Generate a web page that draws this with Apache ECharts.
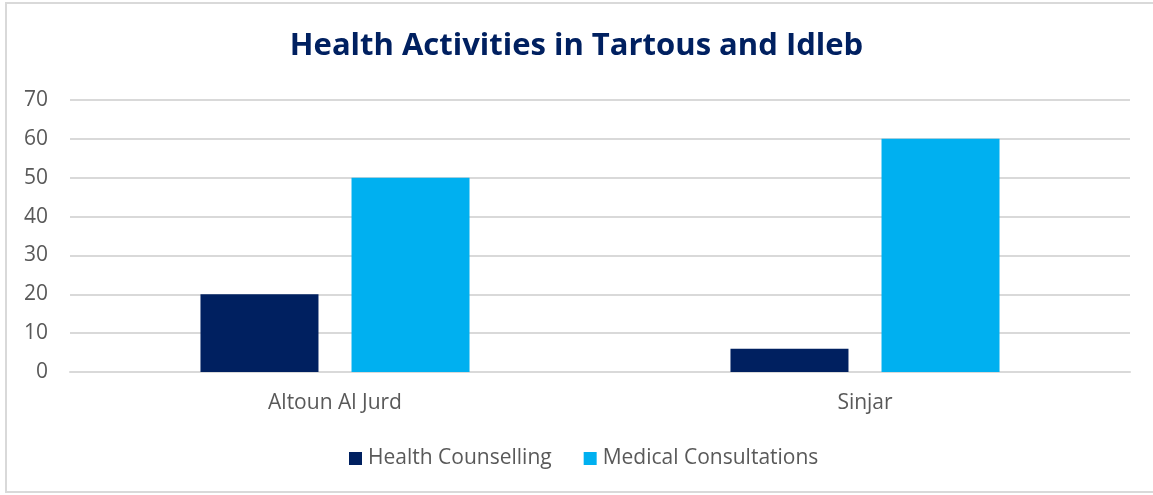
<!DOCTYPE html>
<html>
<head>
<meta charset="utf-8">
<script src="https://cdn.jsdelivr.net/npm/echarts@6/dist/echarts.min.js"></script>
<style>
html,body{margin:0;padding:0;background:#fff;}
#frame{position:absolute;left:5px;top:2px;width:1160px;height:491px;border:2px solid #d9d9d9;border-right:none;box-sizing:border-box;}
#chart{position:absolute;left:0;top:0;width:1153px;height:495px;}
</style>
</head>
<body>
<div id="frame"></div>
<div id="chart"></div>
<script>
const titleText = 'Health Activities in Tartous and Idleb';
const categories = ['Altoun Al Jurd', 'Sinjar'];
const seriesNames = ['Health Counselling', 'Medical Consultations'];
const healthCounselling = [20, 6];
const medicalConsultations = [50, 60];
const yTicks = [0, 10, 20, 30, 40, 50, 60, 70];

const FONT = '"Open Sans", Lato, sans-serif';
const chart = echarts.init(document.getElementById('chart'), null, {renderer: 'canvas'});
chart.setOption({
  backgroundColor: 'transparent',
  animation: false,
  title: {
    text: titleText,
    left: 'center',
    top: 26,
    textStyle: {fontFamily: FONT, fontSize: 31, fontWeight: 'bold', color: '#002060'}
  },
  legend: {
    data: seriesNames,
    bottom: 21,
    left: 344,
    itemWidth: 13,
    itemHeight: 13,
    itemGap: 32,
    icon: 'rect',
    textStyle: {fontFamily: FONT, fontSize: 21, color: '#595959', padding: [0, 0, 0, 1]}
  },
  grid: {left: 70, right: 23, top: 100, bottom: 123, containLabel: false},
  xAxis: {
    type: 'category',
    data: categories,
    axisLine: {show: true, lineStyle: {color: '#d9d9d9', width: 2}},
    axisTick: {show: false},
    axisLabel: {fontFamily: FONT, fontSize: 21, color: '#595959', margin: 21}
  },
  yAxis: {
    type: 'value',
    min: yTicks[0],
    max: yTicks[yTicks.length - 1],
    interval: 10,
    axisLine: {show: false},
    axisTick: {show: false},
    splitLine: {lineStyle: {color: '#d9d9d9', width: 2}},
    axisLabel: {fontFamily: FONT, fontSize: 21, color: '#595959', margin: 22, align: 'right'}
  },
  series: [
    {name: seriesNames[0], type: 'bar', data: healthCounselling, barWidth: 118, barGap: '28%',
     itemStyle: {color: '#002060'}},
    {name: seriesNames[1], type: 'bar', data: medicalConsultations, barWidth: 118, barGap: '28%',
     itemStyle: {color: '#00B0F0'}}
  ]
});
</script>
</body>
</html>
